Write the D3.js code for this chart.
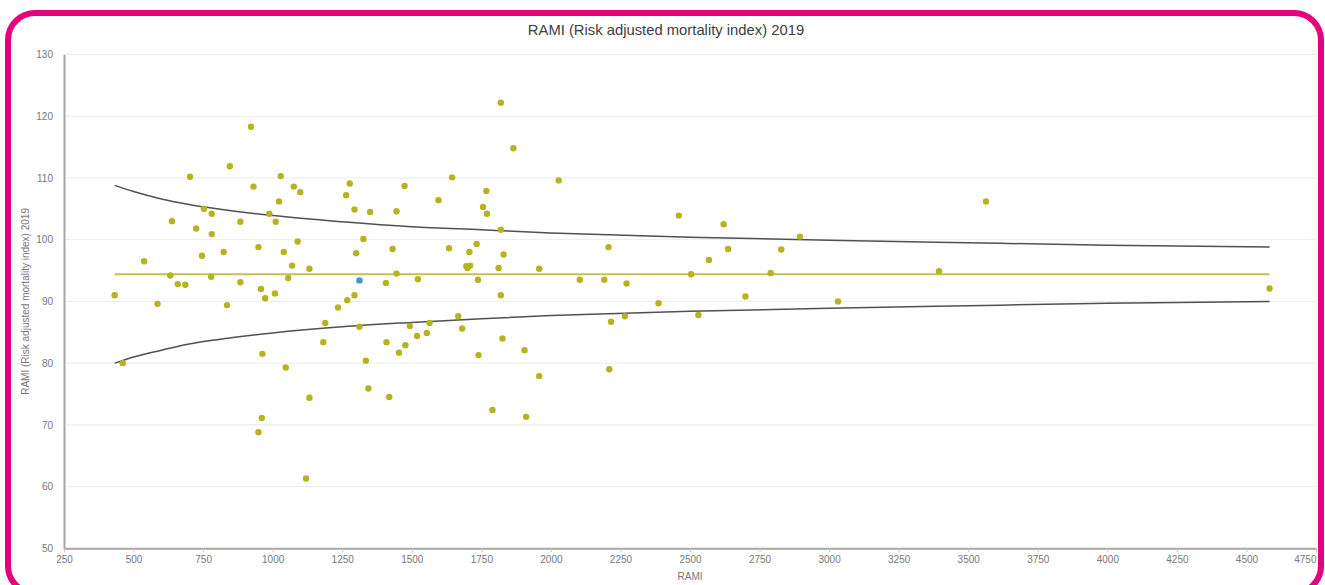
<!DOCTYPE html>
<html>
<head>
<meta charset="utf-8">
<script src="https://cdn.jsdelivr.net/npm/d3@7"></script>
<style>
  body { margin: 0; background: #fff; }
  text { font-family: "Liberation Sans", Arial, sans-serif; }
</style>
</head>
<body>
<div id="chart"></div>
<script>
// hospital volume (x) and RAMI value (y), one entry per hospital
const ramiX = [432, 461, 538, 586, 638, 632, 659, 686, 703, 725, 746, 753, 781, 781, 779, 824, 836, 846, 884, 884,
  922, 931, 949, 949, 958, 963, 961, 973, 988, 1008, 1011, 1023, 1029, 1040, 1047, 1056, 1070, 1076, 1090, 1099,
  1120, 1132, 1132, 1189, 1182, 1235, 1264, 1268, 1277, 1294, 1294, 1300, 1312, 1312, 1326, 1335, 1344, 1350, 1407, 1409,
  1419, 1431, 1445, 1445, 1454, 1474, 1477, 1493, 1519, 1522, 1554, 1564, 1596, 1634, 1645, 1667, 1681, 1696, 1700, 1707,
  1710, 1733, 1738, 1740, 1756, 1768, 1770, 1790, 1812, 1820, 1820, 1820, 1830, 1826, 1865, 1905, 1911, 1958, 1958, 2028,
  2104, 2192, 2207, 2210, 2216, 2266, 2272, 2387, 2460, 2504, 2530, 2568, 2621, 2637, 2699, 2790, 2828, 2895, 3032, 3395,
  3564, 4583];
const ramiY = [91.0, 80.0, 96.5, 89.6, 103.0, 94.2, 92.8, 92.7, 110.2, 101.8, 97.4, 105.0, 104.2, 100.9, 94.0, 98.0, 89.4, 111.9, 102.9, 93.1,
  118.3, 108.6, 98.8, 68.8, 92.0, 81.5, 71.1, 90.5, 104.2, 91.3, 102.9, 106.2, 110.3, 98.0, 79.3, 93.8, 95.8, 108.6, 99.7, 107.7,
  61.3, 95.3, 74.4, 86.5, 83.4, 89.0, 107.2, 90.2, 109.1, 104.9, 91.0, 97.8, 93.4, 85.9, 100.1, 80.4, 75.9, 104.5, 93.0, 83.4,
  74.5, 98.5, 104.6, 94.5, 81.7, 108.7, 82.9, 86.0, 84.4, 93.6, 84.9, 86.5, 106.4, 98.6, 110.1, 87.6, 85.6, 95.7, 95.4, 98.0,
  95.8, 99.3, 93.5, 81.3, 105.3, 107.9, 104.2, 72.4, 95.4, 122.2, 101.6, 91.0, 97.6, 84.0, 114.8, 82.1, 71.3, 95.3, 77.9, 109.6,
  93.5, 93.5, 98.8, 79.0, 86.7, 87.6, 92.9, 89.7, 103.9, 94.4, 87.8, 96.7, 102.5, 98.5, 90.8, 94.6, 98.4, 100.5, 90.0, 94.9,
  106.2, 92.1];
// index of the highlighted hospital (blue dot)
const highlightIndex = 52;

// funnel: mean line and control limits
const meanX = [432, 4583];
const meanY = [94.4, 94.4];
const limitX = [432, 500, 600, 700, 800, 1000, 1250, 1500, 1750, 2000, 2500, 3000, 3500, 4000, 4583];
const upperY = [108.8, 107.8, 106.6, 105.7, 105.0, 103.9, 102.9, 102.1, 101.6, 101.1, 100.4, 99.9, 99.5, 99.1, 98.8];
const lowerY = [80.0, 81.0, 82.1, 83.1, 83.8, 84.9, 85.9, 86.6, 87.2, 87.7, 88.4, 88.9, 89.3, 89.7, 90.0];

const xTicks = d3.range(250, 4751, 250);
const yTicks = [50, 60, 70, 80, 90, 100, 110, 120, 130];

const W = 1325, H = 585;
const margin = { top: 54.5, right: 9, bottom: 36.7, left: 64 };

const svg = d3.select('#chart')
  .append('svg')
  .attr('width', W)
  .attr('height', H);

// pink rounded frame
svg.append('rect')
  .attr('x', 8)
  .attr('y', 13)
  .attr('width', 1313)
  .attr('height', 580)
  .attr('rx', 27)
  .attr('fill', 'none')
  .attr('stroke', '#e6007e')
  .attr('stroke-width', 6);

const x = d3.scaleLinear()
  .domain([250, 4750])
  .range([margin.left, W - margin.right]);

const y = d3.scaleLinear()
  .domain([50, 130])
  .range([H - margin.bottom, margin.top]);

// horizontal grid
svg.append('g')
  .selectAll('line')
  .data(yTicks.slice(1))
  .enter()
  .append('line')
  .attr('x1', x(250))
  .attr('x2', x(4750))
  .attr('y1', d => y(d))
  .attr('y2', d => y(d))
  .attr('stroke', '#ebebeb')
  .attr('stroke-width', 1);

// x axis
const xAxis = svg.append('g')
  .attr('transform', `translate(0, ${y(50)})`)
  .call(d3.axisBottom(x).tickValues(xTicks).tickSize(4).tickSizeOuter(0).tickFormat(d3.format('d')));
xAxis.select('.domain').attr('stroke', '#a6a6a6').attr('stroke-width', 2);
xAxis.selectAll('.tick line').attr('stroke', '#c8c8c8');
xAxis.selectAll('.tick text')
  .attr('fill', '#777')
  .style('font-size', '10px')
  .attr('dy', '0.71em')
  .attr('y', 8);
// last label sits inside the plot edge
xAxis.selectAll('.tick text')
  .filter(d => d === 4750)
  .attr('text-anchor', 'end');

// y axis
const yAxis = svg.append('g')
  .attr('transform', `translate(${x(250)}, 0)`)
  .call(d3.axisLeft(y).tickValues(yTicks).tickSize(0).tickFormat(d3.format('d')));
yAxis.select('.domain').attr('stroke', '#a6a6a6').attr('stroke-width', 2);
yAxis.selectAll('.tick text')
  .attr('fill', '#777')
  .style('font-size', '10px')
  .attr('x', -11);

// control limits
const line = d3.line()
  .x(d => x(d[0]))
  .y(d => y(d[1]))
  .curve(d3.curveMonotoneX);

svg.append('path')
  .datum(limitX.map((v, i) => [v, upperY[i]]))
  .attr('d', line)
  .attr('fill', 'none')
  .attr('stroke', '#505050')
  .attr('stroke-width', 1.5);

svg.append('path')
  .datum(limitX.map((v, i) => [v, lowerY[i]]))
  .attr('d', line)
  .attr('fill', 'none')
  .attr('stroke', '#505050')
  .attr('stroke-width', 1.5);

// mean line
svg.append('path')
  .datum(meanX.map((v, i) => [v, meanY[i]]))
  .attr('d', line)
  .attr('fill', 'none')
  .attr('stroke', '#c3c24a')
  .attr('stroke-width', 2);

// hospitals
svg.append('g')
  .selectAll('circle')
  .data(ramiX.map((v, i) => ({ x: v, y: ramiY[i], hl: i === highlightIndex })))
  .enter()
  .append('circle')
  .attr('cx', d => x(d.x))
  .attr('cy', d => y(d.y))
  .attr('r', 3.2)
  .attr('fill', d => d.hl ? '#3d9ad6' : '#b4b41f');

// title
svg.append('text')
  .attr('x', 666)
  .attr('y', 35)
  .attr('text-anchor', 'middle')
  .attr('fill', '#404040')
  .style('font-size', '14.8px')
  .text('RAMI (Risk adjusted mortality index) 2019');

// axis titles
svg.append('text')
  .attr('x', (x(250) + x(4750)) / 2)
  .attr('y', 580)
  .attr('text-anchor', 'middle')
  .attr('fill', '#777')
  .style('font-size', '10px')
  .text('RAMI');

svg.append('text')
  .attr('transform', `translate(29, ${(y(50) + y(130)) / 2}) rotate(-90)`)
  .attr('text-anchor', 'middle')
  .attr('fill', '#777')
  .style('font-size', '10px')
  .text('RAMI (Risk adjusted mortality index) 2019');
</script>
</body>
</html>
